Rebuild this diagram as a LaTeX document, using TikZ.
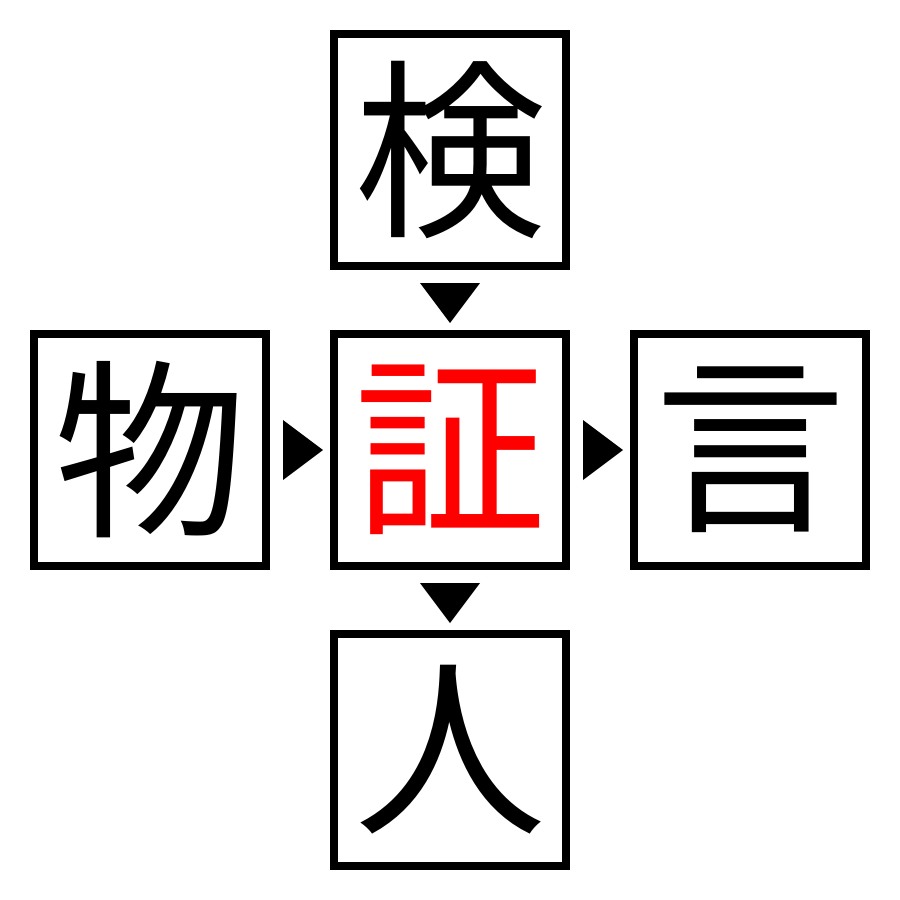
\documentclass[tikz,border=0pt]{standalone}
\usepackage{fontspec}
\newfontfamily\cjk{Noto Sans CJK JP}
\begin{document}
\begin{tikzpicture}[x=1pt,y=-1pt,
  kbox/.style={draw=black,line width=8pt,minimum size=232pt,inner sep=0pt,font=\cjk\fontsize{192}{192}\selectfont},
  tri/.style={fill=black}]
\useasboundingbox (0,0) rectangle (900,900);
\node[kbox] (top) at (450,150) {検};
\node[kbox] (left) at (150,450) {物};
\node[kbox,text=red] (mid) at (450,450) {証};
\node[kbox] (right) at (750,450) {言};
\node[kbox] (bot) at (450,750) {人};
\fill[tri] (420,283) -- (480,283) -- (450,323) -- cycle;
\fill[tri] (420,583) -- (480,583) -- (450,623) -- cycle;
\fill[tri] (283,420) -- (283,480) -- (323,450) -- cycle;
\fill[tri] (583,420) -- (583,480) -- (623,450) -- cycle;
\end{tikzpicture}
\end{document}
